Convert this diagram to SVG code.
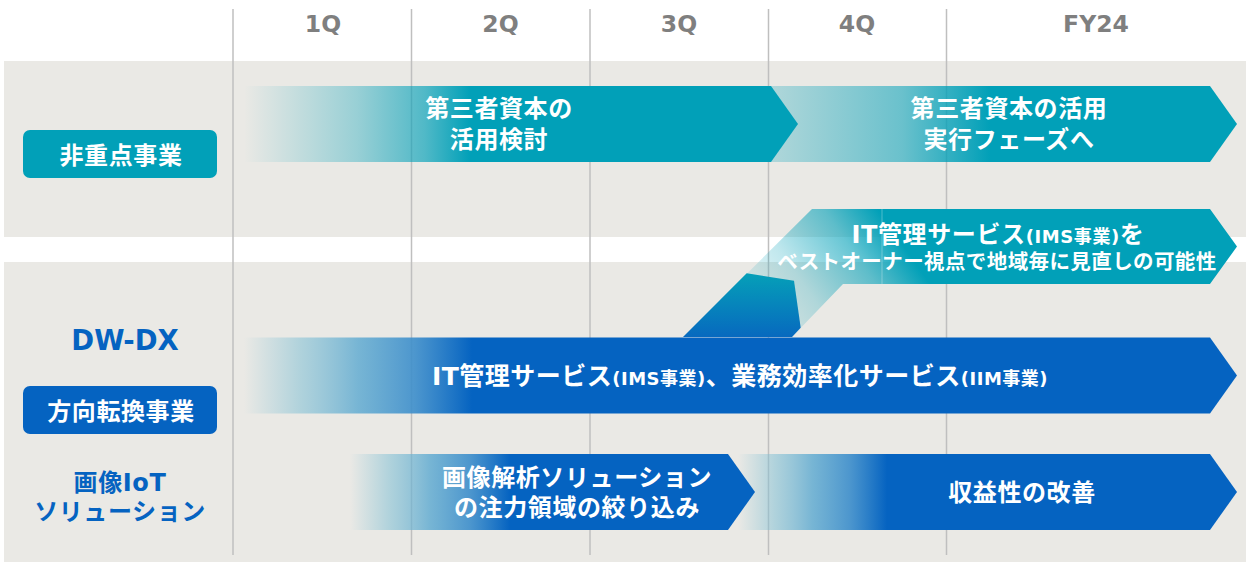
<svg xmlns="http://www.w3.org/2000/svg" width="1250" height="563" viewBox="0 0 1250 563">
<style>
.bg{fill:#EAE9E5}
.grid{stroke:#BFBFBF;stroke-width:1.5}
.hdr{font-family:"DejaVu Sans",sans-serif;font-weight:bold;font-size:23.5px;fill:#7F7F7F;text-anchor:middle}
.jp{font-family:"Noto Sans CJK JP",sans-serif;font-weight:bold;font-size:24px;letter-spacing:0.6px;fill:#fff;text-anchor:middle}
.jps{font-family:"Noto Sans CJK JP",sans-serif;font-weight:bold;font-size:20.5px;letter-spacing:0.4px;fill:#fff;text-anchor:middle}
.mx{font-family:"DejaVu Sans","Noto Sans CJK JP",sans-serif;font-weight:bold;fill:#fff;text-anchor:middle}
.lbl{font-family:"DejaVu Sans","Noto Sans CJK JP",sans-serif;font-weight:bold;font-size:24px;letter-spacing:0.6px;fill:#0563C1;text-anchor:middle}
.teal{fill:#01A0B8}
.blue{fill:#0563C1}
</style>
<defs>
<linearGradient id="gT1" gradientUnits="userSpaceOnUse" x1="244" y1="0" x2="470" y2="0">
<stop offset="0" stop-color="#01A0B8" stop-opacity="0"/>
<stop offset="0.5" stop-color="#01A0B8" stop-opacity="0.35"/>
<stop offset="0.8" stop-color="#01A0B8" stop-opacity="0.66"/>
<stop offset="1" stop-color="#01A0B8" stop-opacity="1"/>
</linearGradient>
<linearGradient id="gT2" gradientUnits="userSpaceOnUse" x1="771" y1="0" x2="990" y2="0">
<stop offset="0" stop-color="#01A0B8" stop-opacity="0.25"/>
<stop offset="0.6" stop-color="#01A0B8" stop-opacity="0.55"/>
<stop offset="1" stop-color="#01A0B8" stop-opacity="1"/>
</linearGradient>
<linearGradient id="gB1" gradientUnits="userSpaceOnUse" x1="244" y1="0" x2="472" y2="0">
<stop offset="0" stop-color="#7FC0D4" stop-opacity="0"/>
<stop offset="0.25" stop-color="#7FBFD4" stop-opacity="0.55"/>
<stop offset="0.5" stop-color="#5AA8D0" stop-opacity="0.8"/>
<stop offset="0.75" stop-color="#3B8DCB" stop-opacity="0.9"/>
<stop offset="1" stop-color="#0563C1" stop-opacity="1"/>
</linearGradient>
<linearGradient id="gB2" href="#gB1" x1="350" x2="510"/>
<linearGradient id="gB3" href="#gB1" x1="738" x2="887"/>
<linearGradient id="gC" gradientUnits="userSpaceOnUse" x1="760" y1="300" x2="882" y2="215">
<stop offset="0" stop-color="#01A0B8" stop-opacity="0.1"/>
<stop offset="0.3" stop-color="#01A0B8" stop-opacity="0.25"/>
<stop offset="0.7" stop-color="#01A0B8" stop-opacity="0.6"/>
<stop offset="1" stop-color="#01A0B8" stop-opacity="1"/>
</linearGradient>
<linearGradient id="gP" gradientUnits="userSpaceOnUse" x1="0" y1="273" x2="0" y2="337">
<stop offset="0" stop-color="#05A0B8"/>
<stop offset="1" stop-color="#0769BF"/>
</linearGradient>
</defs>

<g id="background">
<rect class="bg" x="4" y="61" width="1242" height="176"/>
<rect class="bg" x="4" y="262" width="1242" height="300"/>
</g>

<g id="grid">
<line class="grid" x1="233" y1="9" x2="233" y2="555"/>
<line class="grid" x1="411.5" y1="9" x2="411.5" y2="555"/>
<line class="grid" x1="590" y1="9" x2="590" y2="555"/>
<line class="grid" x1="768.5" y1="9" x2="768.5" y2="555"/>
<line class="grid" x1="946.5" y1="9" x2="946.5" y2="555"/>
</g>

<g id="header">
<text class="hdr" x="323" y="31.5">1Q</text>
<text class="hdr" x="500.5" y="31.5">2Q</text>
<text class="hdr" x="679" y="31.5">3Q</text>
<text class="hdr" x="857" y="31.5">4Q</text>
<text class="hdr" x="1096" y="31.5">FY24</text>
</g>

<g id="label-nonfocus">
<rect class="teal" x="23" y="130" width="194" height="48" rx="7"/>
<text class="jp" x="121" y="164">非重点事業</text>
</g>

<g id="label-dwdx">
<text x="125" y="350" font-family="DejaVu Sans, sans-serif" font-weight="bold" font-size="27.5" fill="#0563C1" text-anchor="middle">DW-DX</text>
</g>

<g id="label-transform">
<rect class="blue" x="23" y="386" width="194" height="48" rx="7"/>
<text class="jp" x="121" y="419.6">方向転換事業</text>
</g>

<g id="label-iot">
<text class="lbl" x="120" y="491">画像IoT</text>
<text class="lbl" x="120" y="520">ソリューション</text>
</g>

<g id="connectors">
<polygon fill="url(#gC)" points="812,209 1210,209 1237,246.5 1210,284 843,284 792,337 683,337"/>
<polygon fill="url(#gP)" points="746.7,273.3 794,280.7 800.7,327.7 792,337 683,337"/>
<line x1="882" y1="209" x2="882" y2="284" stroke="#ffffff" stroke-opacity="0.3" stroke-width="1"/>
</g>

<g id="arrow-ims-review">
<text class="mx" x="998" y="243" font-size="24" letter-spacing="0.6">IT管理サービス<tspan font-size="18">(IMS事業)</tspan>を</text>
<text class="jps" x="997" y="269.3">ベストオーナー視点で地域毎に見直しの可能性</text>
</g>

<g id="arrow-thirdparty-exec">
<polygon fill="url(#gT2)" points="771,86 1210,86 1237,124 1210,162 771,162"/>
<text class="jp" x="1009" y="116.6">第三者資本の活用</text>
<text class="jp" x="1009" y="148.1">実行フェーズへ</text>
</g>

<g id="arrow-thirdparty-study">
<polygon fill="url(#gT1)" points="244,86 771,86 798,124 771,162 244,162"/>
<text class="jp" x="499" y="116.6">第三者資本の</text>
<text class="jp" x="499" y="148.1">活用検討</text>
</g>

<g id="arrow-dwdx">
<polygon fill="url(#gB1)" points="244,337.5 1210,337.5 1237,375.5 1210,413.5 244,413.5"/>
<text class="mx" x="740" y="384.5" font-size="25" letter-spacing="0.5">IT管理サービス<tspan font-size="18">(IMS事業)</tspan>、業務効率化サービス<tspan font-size="18">(IIM事業)</tspan></text>
</g>

<g id="arrow-profit">
<polygon fill="url(#gB3)" points="738,454 1210,454 1237,492 1210,530 738,530"/>
<text class="jp" x="1022" y="501">収益性の改善</text>
</g>

<g id="arrow-image-focus">
<polygon fill="url(#gB2)" points="350,454 728,454 755,492 728,530 350,530"/>
<text class="jp" x="577" y="485.6">画像解析ソリューション</text>
<text class="jp" x="577" y="516">の注力領域の絞り込み</text>
</g>
</svg>
